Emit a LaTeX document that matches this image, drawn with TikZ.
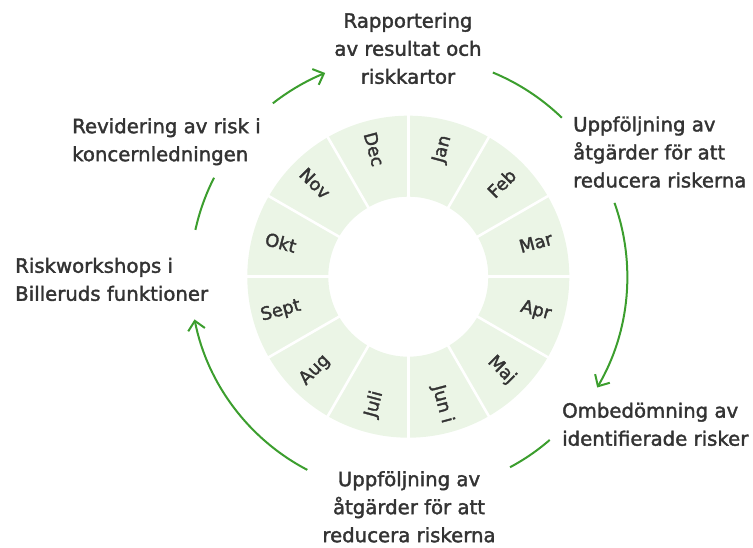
\documentclass[tikz,border=0pt]{standalone}
\usepackage{fontspec}
\setmainfont{DejaVu Sans}[FakeBold=1.8]
\usetikzlibrary{arrows.meta}
\definecolor{flowgreen}{RGB}{60,158,46}
\definecolor{ringfill}{RGB}{235,245,230}
\definecolor{txt}{RGB}{51,51,51}
\begin{document}
\begin{tikzpicture}[x=1pt,y=1pt,
  proc/.style={inner sep=0pt, text=txt, font=\fontsize{19.7}{28}\selectfont},
  month/.style={inner sep=0pt, text=txt, font=\fontsize{17.8}{20}\selectfont},
  flow/.style={draw=flowgreen, line width=2pt},
  flowarrow/.style={flow, -{Straight Barb[length=9pt,width=17pt]}}]
\useasboundingbox (0,0) rectangle (753,548);
\coordinate (C) at (408.3,271.3);
% ring
\fill[ringfill, even odd rule] (C) circle[radius=161] (C) circle[radius=80];
\foreach \a in {0,30,...,330}
  \draw[white, line width=2.6pt] ([shift={(\a:78)}]C) -- ([shift={(\a:163)}]C);
% months
\foreach \n/\a/\r in {Jan/75/75, Feb/45/45, Mar/15/15, Apr/-15/-15, Maj/-45/-45, Jun i/-75/-75,
                      Juli/255/75, Aug/225/45, Sept/195/15, Okt/165/-15, Nov/135/-45, Dec/105/-75}
  \node[month, rotate=\r] (m-\a) at ([shift={(\a:132)}]C) {\n};
% process labels
\node[proc, anchor=north, align=center] (p1) at (408,535.4)
  {Rapportering\\av resultat och\\riskkartor};
\node[proc, anchor=north west, align=left] (p2) at (573,431.7)
  {Uppföljning av\\åtgärder för att\\reducera riskerna};
\node[proc, anchor=north west, align=left] (p3) at (562,145.5)
  {Ombedömning av\\identifierade risker};
\node[proc, anchor=north, align=center] (p4) at (409,77)
  {Uppföljning av\\åtgärder för att\\reducera riskerna};
\node[proc, anchor=north west, align=left] (p5) at (15,290.4)
  {Riskworkshops i\\Billeruds funktioner};
\node[proc, anchor=north west, align=left] (p6) at (72,430)
  {Revidering av risk i\\koncernledningen};
% arcs
\coordinate (a1) at ([shift={(128:220)}]C);
\coordinate (a2) at ([shift={(67.5:221)}]C);
\coordinate (a3) at ([shift={(19.7:219)}]C);
\coordinate (a4) at ([shift={(-49.1:216)}]C);
\coordinate (a5) at ([shift={(242.4:218)}]C);
\coordinate (a6) at ([shift={(167.6:218)}]C);
\draw[flowarrow] (a1) arc[start angle=128, end angle=112.2, radius=220];
\draw[flow] (a2) arc[start angle=67.5, end angle=46, radius=221];
\draw[flowarrow] (a3) arc[start angle=19.7, end angle=-30.4, radius=219];
\draw[flow] (a4) arc[start angle=-49.1, end angle=-61.9, radius=216];
\draw[flowarrow] (a5) arc[start angle=242.4, end angle=191.3, radius=218];
\draw[flow] (a6) arc[start angle=167.6, end angle=153, radius=218];
\end{tikzpicture}
\end{document}
